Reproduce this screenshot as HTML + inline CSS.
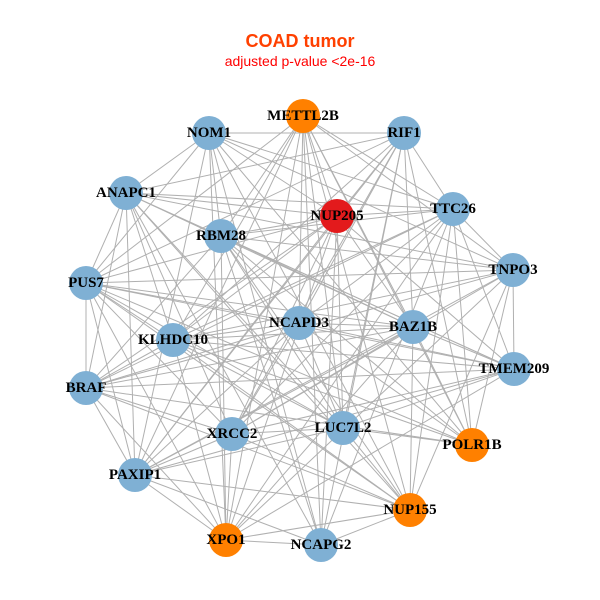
<!DOCTYPE html>
<html><head><meta charset="utf-8"><style>
html,body{margin:0;padding:0;background:#fff;}
svg{display:block}
.lb{font-family:"Liberation Serif",serif;font-weight:bold;font-size:15px;fill:#000;text-anchor:middle;dominant-baseline:central}
</style></head><body>
<svg id="s" width="600" height="600" viewBox="0 0 600 600">
<text x="300" y="47" text-anchor="middle" font-family="Liberation Sans,sans-serif" font-weight="bold" font-size="18" fill="#ff4000">COAD tumor</text>
<text x="300" y="66" text-anchor="middle" font-family="Liberation Sans,sans-serif" font-size="14" fill="#ff0000">adjusted p-value &lt;2e-16</text>
<g id="e" stroke="#b0b0b0" stroke-width="1"></g>
<g id="n"></g>
</svg>
<script>
var N=[["METTL2B",303,116,"o"],["NOM1",209,133,"b"],["RIF1",404,133,"b"],["ANAPC1",126,193,"b"],["TTC26",453,209,"b"],["NUP205",337,216,"r"],["RBM28",221,236,"b"],["TNPO3",513,270,"b"],["PUS7",86,283,"b"],["NCAPD3",299,323,"b"],["BAZ1B",413,327,"b"],["KLHDC10",173,340,"b"],["TMEM209",514,369,"b"],["BRAF",86,388,"b"],["XRCC2",232,434,"b"],["LUC7L2",343,428,"b"],["POLR1B",472,445,"o"],["PAXIP1",135,475,"b"],["NUP155",410,510,"o"],["XPO1",226,540,"o"],["NCAPG2",321,545,"b"]];
var C={b:"#7fb0d4",o:"#ff8000",r:"#e31a1c"};
var ns="http://www.w3.org/2000/svg",e=document.getElementById("e"),g=document.getElementById("n");
for(var i=0;i<N.length;i++)for(var j=i+1;j<N.length;j++){
 var h=((i*37+j*91+i*j*13)%100);
 if(h<72){var l=document.createElementNS(ns,"line");l.setAttribute("x1",N[i][1]);l.setAttribute("y1",N[i][2]);l.setAttribute("x2",N[j][1]);l.setAttribute("y2",N[j][2]);e.appendChild(l);}
}
N.forEach(function(d){var c=document.createElementNS(ns,"circle");c.setAttribute("cx",d[1]);c.setAttribute("cy",d[2]);c.setAttribute("r",17);c.setAttribute("fill",C[d[3]]);g.appendChild(c);});
N.forEach(function(d){var t=document.createElementNS(ns,"text");t.setAttribute("x",d[1]);t.setAttribute("y",d[2]);t.setAttribute("class","lb");t.textContent=d[0];g.appendChild(t);});
</script>
</body></html>
